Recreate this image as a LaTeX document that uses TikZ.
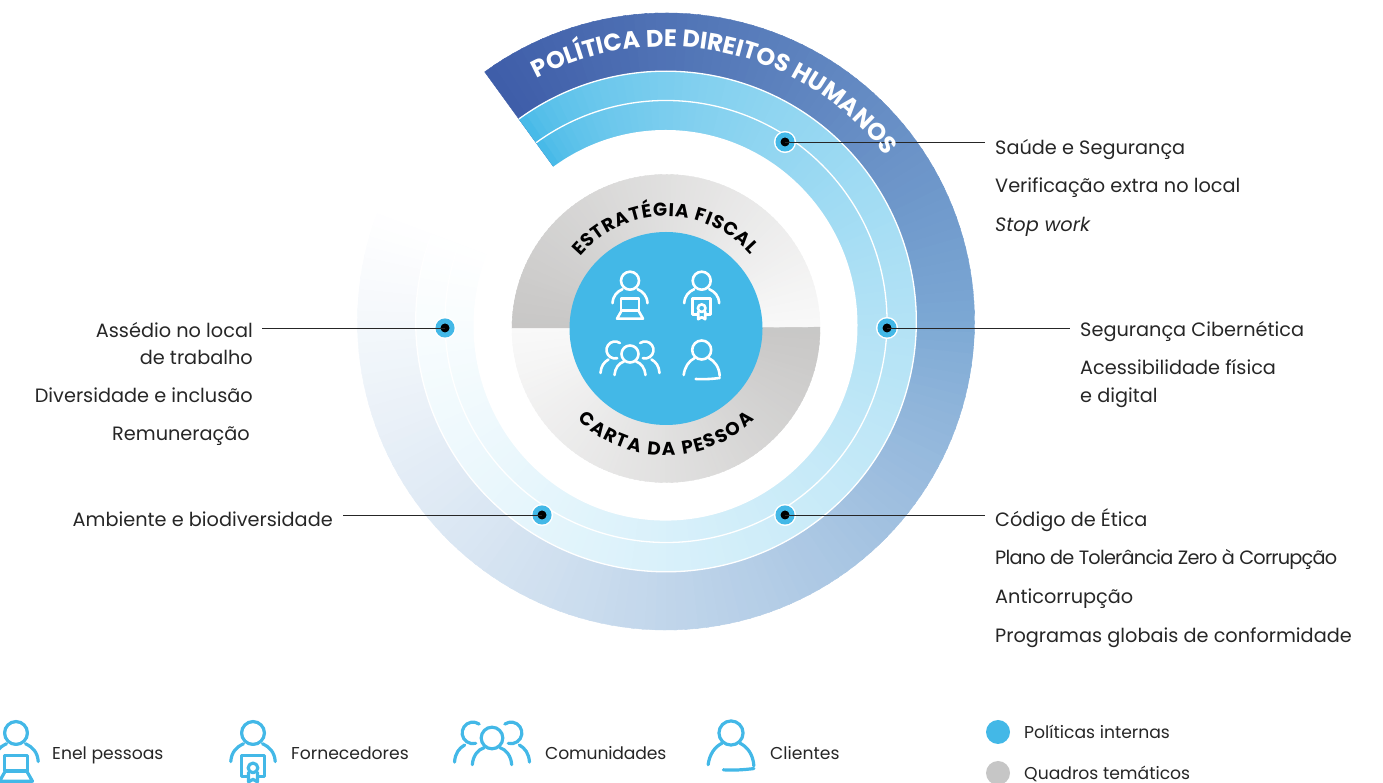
\documentclass[tikz,border=0pt]{standalone}
\usepackage{fontspec}
\setmainfont{Poppins}
\usepackage{tikz}
\usetikzlibrary{calc, decorations.text}

\definecolor{azulenel}{HTML}{43B8E7}
\definecolor{anelA}{HTML}{3F5EA9}
\definecolor{anelB}{HTML}{7CA8D4}
\definecolor{cinzaA}{HTML}{C8C7C6}
\definecolor{cinzaB}{HTML}{F9F9F9}
\definecolor{cinzaC}{HTML}{C6C6C6}
\definecolor{textoc}{HTML}{262626}

% fatia de anel: centro, raio, angulo inicial, angulo final, cor
\newcommand{\fatia}[5]{\fill[#5,draw=#5,line width=.4pt] (#1) -- ($(#1)+(#3:#2)$) arc[start angle=#3,end angle=#4,radius=#2] -- cycle;}
% cabeca e ombros das figuras
\newcommand{\busto}{
  \draw[pic actions] (0,0) circle (9);
  \draw[pic actions] (-17.5,-22.5) .. controls (-17,-15) and (-13,-11) .. (-7.5,-8.5);
  \draw[pic actions] (17.5,-22.5) .. controls (17,-15) and (13,-11) .. (7.5,-8.5);
}

\tikzset{
  rotulo/.style={text=textoc,font=\fontsize{19.3}{24}\selectfont,inner sep=0pt},
  legenda/.style={text=textoc,font=\fontsize{17.2}{20}\selectfont,inner sep=0pt},
  ponto/.style={circle,inner sep=0pt,outer sep=0pt,minimum size=14pt,fill=black,draw=azulenel,line width=5pt,preaction={draw=white,line width=8pt}},
  guia/.style={line width=.9pt,draw=black!85},
  iconebranco/.style={draw=white,line width=2.6pt,line cap=round,line join=round},
  iconeazul/.style={draw=azulenel,line width=3.2pt,line cap=round,line join=round,scale=1.27},
  pics/portatil/.style={code={
    \busto
    \draw[pic actions] (-9,-30) -- (-9,-18) -- (9,-18) -- (9,-30) -- cycle;
    \draw[pic actions] (-9,-31) -- (-13,-38) -- (13,-38) -- (9,-31);
  }},
  pics/certificado/.style={code={
    \busto
    \draw[pic actions] (-4,-34) -- (-9,-34) -- (-9,-18) -- (9,-18) -- (9,-34) -- (4,-34);
    \draw[pic actions] (0,-27.5) circle (3.8);
    \draw[pic actions] (-3.5,-31) -- (-3.5,-38.5) -- (0,-36.5) -- (3.5,-38.5) -- (3.5,-31);
  }},
  pics/grupo/.style={code={
    \draw[pic actions] (0,0) circle (8.5);
    \draw[pic actions] (-15.5,-21) .. controls (-15,-14) and (-11,-9) .. (-6,-7.5);
    \draw[pic actions] (15.5,-21) .. controls (15,-14) and (11,-9) .. (6,-7.5);
    \draw[pic actions] ($(-15,4)+(55:8.5)$) arc[start angle=55,end angle=285,radius=8.5];
    \draw[pic actions] ($(15,4)+(125:8.5)$) arc[start angle=125,end angle=-105,radius=8.5];
    \draw[pic actions] (-29.5,-19) .. controls (-29,-12) and (-26,-8) .. (-21.5,-5.5);
    \draw[pic actions] (29.5,-19) .. controls (29,-12) and (26,-8) .. (21.5,-5.5);
  }},
  pics/cliente/.style={code={
    \draw[pic actions] (0,0) circle (9.5);
    \draw[pic actions] (-18,-25) .. controls (-17,-17) and (-13,-11) .. (-7,-8);
    \draw[pic actions] (7,-8) .. controls (13,-11) and (17.5,-17) .. (18,-26);
    \draw[pic actions] (18,-28) .. controls (10,-29) and (2,-29.5) .. (-6,-29);
  }},
}

\begin{document}
\begin{tikzpicture}[x=1pt,y=1pt]
  \useasboundingbox (0,0) rectangle (1383,783);

  \coordinate (centro) at (666,461.5);
  \coordinate (miolo) at (666,454.5);

  % anel exterior
  \foreach \a in {126,124,...,2}{
    \pgfmathsetmacro{\p}{(126-\a)/126*100}
    \colorlet{corseg}{anelB!\p!anelA}
    \fatia{centro}{308.5}{\a}{\a-2.5}{corseg}
  }
  \foreach \a in {0,-2,...,-198}{
    \pgfmathsetmacro{\p}{pow((0.5-\a)/200.5,0.8)*100}
    \colorlet{corseg}{white!\p!anelB}
    \fatia{centro}{308.5}{\a}{\a-2.5}{corseg}
  }

  % anel do meio
  \foreach \a in {126,124,...,-198}{
    \pgfmathsetmacro{\p}{pow((126.5-\a)/326.5,0.55)*100}
    \colorlet{corseg}{white!\p!azulenel}
    \fatia{centro}{250.3}{\a}{\a-2.5}{corseg}
  }
  \draw[white,line width=1.3pt] ($(centro)+(126:250.3)$) arc[start angle=126,end angle=-200,radius=250.3];
  \draw[white,line width=1.3pt] ($(centro)+(126:221)$) arc[start angle=126,end angle=-200,radius=221];
  \fill[white] (665.5,457.7) ellipse [x radius=192,y radius=195.3];

  % disco central
  \foreach \a in {180,178,...,2}{
    \pgfmathsetmacro{\p}{\a/180*100}
    \colorlet{corseg}{cinzaA!\p!cinzaB}
    \fatia{miolo}{154}{\a}{\a-2.5}{corseg}
  }
  \foreach \a in {180,182,...,358}{
    \pgfmathsetmacro{\p}{(\a-180)/180*100}
    \colorlet{corseg}{cinzaA!\p!cinzaB}
    \fatia{miolo}{154}{\a}{\a+2.5}{corseg}
  }
  \fill[azulenel] (miolo) circle (96.5);

  \path[decorate,decoration={text along path,text align={fit to path},
    text={|\fontsize{18.5}{20}\bfseries\selectfont|ESTRATÉGIA FISCAL}}]
    ($(miolo)+(140:112)$) arc[start angle=140,end angle=41,radius=112];
  \path[decorate,decoration={text along path,text align={fit to path},
    text={|\fontsize{18.5}{20}\bfseries\selectfont|CARTA DA PESSOA}}]
    ($(miolo)+(226:127)$) arc[start angle=226,end angle=314,radius=127];

  % icones do centro
  \pic[iconebranco] at (630,502.3) {portatil};
  \pic[iconebranco] at (701.7,502.3) {certificado};
  \pic[iconebranco] at (630,429) {grupo};
  \pic[iconebranco] at (701.7,433) {cliente};

  % pontos e linhas
  \node[ponto] (psaude) at (785,641) {};
  \node[ponto] (pciber) at (887,455) {};
  \node[ponto] (petica) at (785,268) {};
  \node[ponto] (passedio) at (445,455) {};
  \node[ponto] (pambiente) at (542,268) {};
  \coordinate (fsaude) at (985,641);
  \coordinate (fciber) at (1070,455);
  \coordinate (fetica) at (985,268);
  \coordinate (fassedio) at (262,455);
  \coordinate (fambiente) at (343,268);
  \draw[guia] (psaude.center) -- (fsaude);
  \draw[guia] (pciber.center) -- (fciber);
  \draw[guia] (petica.center) -- (fetica);
  \draw[guia] (passedio.center) -- (fassedio);
  \draw[guia] (pambiente.center) -- (fambiente);

  \path[decorate,decoration={text along path,text align={fit to path},
    text={|\color{white}\fontsize{24}{26}\bfseries\selectfont|POLÍTICA DE DIREITOS HUMANOS}}]
    ($(centro)+(118:275)$) arc[start angle=118,end angle=38,radius=275];

  % rotulos a direita
  \node[rotulo,anchor=base west] (saude) at (995,628) {Saúde e Segurança};
  \node[rotulo,anchor=base west] (verifica) at (995,590) {Verificação extra no local};
  \node[rotulo,anchor=base west] (stop) at (995,551) {\itshape Stop work};
  \node[rotulo,anchor=base west] (ciber) at (1080,446) {Segurança Cibernética};
  \node[rotulo,anchor=base west] (acesso) at (1080,408) {Acessibilidade física};
  \node[rotulo,anchor=base west] (digital) at (1080,380) {e digital};
  \node[rotulo,anchor=base west] (etica) at (995,256) {Código de Ética};
  \node[rotulo,anchor=base west] (plano) at (995,218) {\addfontfeature{LetterSpace=-4}Plano de Tolerância Zero à Corrupção};
  \node[rotulo,anchor=base west] (anti) at (995,179) {Anticorrupção};
  \node[rotulo,anchor=base west] (programas) at (995,140) {Programas globais de conformidade};

  % rotulos a esquerda
  \node[rotulo,anchor=base east] (assedio) at (253,445) {Assédio no local};
  \node[rotulo,anchor=base east] (trabalho) at (253,418) {de trabalho};
  \node[rotulo,anchor=base east] (diversidade) at (253,380) {Diversidade e inclusão};
  \node[rotulo,anchor=base east] (remunera) at (250,342) {Remuneração};
  \node[rotulo,anchor=base east] (ambiente) at (333,256) {Ambiente e biodiversidade};

  % legenda
  \pic[iconeazul] at (16,50) {portatil};
  \pic[iconeazul] at (253,50) {certificado};
  \pic[iconeazul] at (492,45) {grupo};
  \pic[iconeazul] at (731,50) {cliente};
  \node[legenda,anchor=base west] (enel) at (52,23) {Enel pessoas};
  \node[legenda,anchor=base west] (fornece) at (291,23) {Fornecedores};
  \node[legenda,anchor=base west] (comuni) at (545,23) {\addfontfeature{LetterSpace=-1}Comunidades};
  \node[legenda,anchor=base west] (clientes) at (770,23) {Clientes};
  \node[circle,fill=azulenel,inner sep=0pt,minimum size=24pt] (lazul) at (998,51) {};
  \node[circle,fill=cinzaC,inner sep=0pt,minimum size=24pt] (lcinza) at (998,10) {};
  \node[legenda,anchor=base west] (politicas) at (1024,44) {Políticas internas};
  \node[legenda,anchor=base west] (quadros) at (1024,3) {Quadros temáticos};
\end{tikzpicture}
\end{document}
